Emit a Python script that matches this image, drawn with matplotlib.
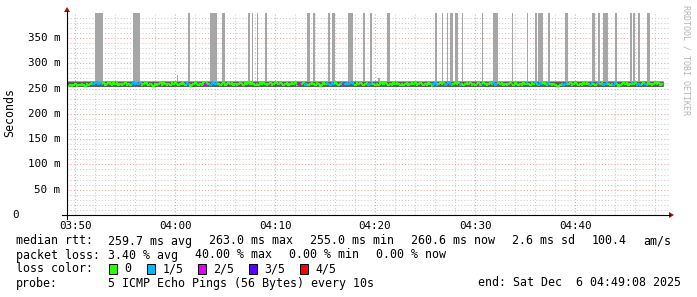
import numpy as np
import matplotlib
matplotlib.use("Agg")
import matplotlib.pyplot as plt
from matplotlib.collections import LineCollection
from matplotlib.patches import Rectangle, Polygon
from matplotlib.lines import Line2D

# ---------------- data ----------------
step_s = 10
start_offset_s = -50          # first sample 03:49:10 (relative to 03:50:00)
median_ms = [
    256,255,257,255,256,258,255,257,256,259,257,255,258,256,259,261,258,260,262,259,
    261,258,260,257,259,262,258,256,260,258,261,257,259,256,258,260,257,259,256,258,
    262,259,261,258,260,257,259,262,258,256,259,257,255,258,256,259,261,257,260,258,
    256,259,257,260,258,261,259,256,258,262,259,257,260,258,255,257,259,261,258,256,
    259,257,260,258,261,259,257,262,260,258,261,259,256,258,260,257,259,261,258,260,
    257,259,256,258,261,259,257,260,258,262,259,261,258,256,259,257,260,258,261,259,
    256,258,260,257,259,262,260,258,261,259,256,258,260,257,259,261,258,260,257,259,
    261,258,260,257,259,256,258,261,259,257,260,258,255,257,260,258,261,259,257,260,
    258,261,259,256,258,260,257,259,261,258,260,262,259,257,260,258,261,259,256,258,
    260,257,259,261,258,256,259,257,260,262,259,261,258,256,259,257,260,258,261,259,
    257,259,256,258,260,257,259,261,258,260,257,259,261,258,256,259,257,260,258,255,
    258,260,257,259,261,258,260,257,259,262,258,256,259,261,258,260,257,259,256,258,
    261,258,260,257,259,256,258,260,257,259,261,258,256,259,261,258,260,257,259,261,
    258,260,257,259,256,258,261,259,257,260,258,256,259,257,260,258,261,259,257,260,
    258,261,259,257,260,258,262,259,257,260,258,256,259,257,255,254,256,258,257,259,
    261,258,260,257,259,261,258,256,259,257,260,258,261,259,257,260,258,256,259,261,
    258,260,257,259,261,258,256,259,257,260,258,255,257,259,261,258,260,257,259,261,
    258,260,257,259,256,258,261,259,257,260,258,256,259,261,258,260,257,259,
]
# samples with packet loss (index, lost pings of 5)
loss_idx = [16,17,18,19,20,21,39,40,41,42,43,44,72,73,83,86,87,88,89,90,139,140,143,144,
            156,157,158,159,160,165,166,167,168,169,170,171,172,181,182,183,220,221,222,
            227,228,229,230,231,236,249,256,257,258,267,276,281,283,284,285,289,298,299,300,
            314,315,319,322,323,324,328,329,339,342,343,344,347,348]
loss_cnt = [1,1,1,1,1,1,1,1,1,1,1,1,1,1,2,1,1,1,1,1,2,2,1,1,
            1,1,1,1,1,1,2,1,1,1,1,1,1,1,1,1,1,1,1,
            1,1,1,1,1,1,1,1,1,1,1,1,1,1,1,1,1,1,1,1,
            1,1,1,1,1,1,1,1,1,1,1,1,1,1]
# samples whose slowest ping rises above the band
spike_idx = [17,18,19,20,21,40,41,42,43,66,73,86,87,88,89,93,94,109,111,114,119,144,145,148,
             157,159,160,169,170,171,178,182,187,192,193,221,225,228,230,231,233,234,237,249,
             256,257,258,267,276,281,283,284,285,289,299,300,315,316,319,322,323,324,329,338,
             340,343,348,349]
spike_ms = [450]*9 + [277] + [450]*22 + [271] + [450]*35
# smoke band (5-minute blocks)
smoke_lo_ms = [254,254,254,254,254,254,254,254,254,254,254,254]
smoke_hi_ms = [265,265,265,265,265,265,265,265,265,265,265,265]

loss_colors = ['#26ff00', '#00b8ff', '#dd00ff', '#5e00ff', '#ff0000']
loss_labels = ['0', '1/5', '2/5', '3/5', '4/5']

# ---------------- figure ----------------
W, H = 697, 297
fig = plt.figure(figsize=(W / 100, H / 100), dpi=100)
fig.patch.set_facecolor('white')

def fx(x):
    return x / W

def fy(y):
    return 1 - y / H

L, R, T, B = 67, 669, 12.6, 215
ax = fig.add_axes([fx(L), fy(B), (R - L) / W, (B - T) / H])
ax.set_xlim(-0.8, 59.4)
ax.set_ylim(0, 0.4)
ax.set_facecolor('white')
for s in ax.spines.values():
    s.set_visible(False)
ax.set_xticks([]); ax.set_yticks([])

dot = (0, (1, 2))
for v in np.arange(0.01, 0.40, 0.01):
    if abs(v / 0.05 - round(v / 0.05)) > 1e-6:
        ax.axhline(v, color='#cccccc', lw=0.75, ls=dot, zorder=0)
for v in np.arange(0.05, 0.40, 0.05):
    ax.axhline(v, color='#e6a0a0', lw=0.75, ls=dot, zorder=0.5)
for m in range(0, 60, 2):
    if m % 10:
        ax.axvline(m, color='#cccccc', lw=0.75, ls=dot, zorder=0)
for m in range(0, 60, 10):
    ax.axvline(m, color='#e6a0a0', lw=0.75, ls=dot, zorder=0.5)

N = len(median_ms)
t = (start_offset_s + np.arange(N + 1) * step_s) / 60.0
med = np.array(median_ms) / 1000.0
loss = np.zeros(N, dtype=int)
loss[loss_idx] = loss_cnt

lo = np.repeat(np.array(smoke_lo_ms) / 1000.0, 30)[:N]
hi = np.repeat(np.array(smoke_hi_ms) / 1000.0, 30)[:N]

# smoke spikes
sp_i = np.array(spike_idx)
sp_top = np.array(spike_ms) / 1000.0
ax.bar(t[sp_i], sp_top - hi[sp_i], width=step_s / 60.0, bottom=hi[sp_i], align='edge',
       color='#a6a6a6', lw=0, zorder=2)
# smoke band
ax.fill_between(t, np.append(lo, lo[-1]), np.append(hi, hi[-1]), step='post',
                color='#5c5c5c', lw=0, zorder=3)

# median line coloured by loss
segs, cols = [], []
for i in range(N):
    prev = med[i - 1] if i > 0 else med[i]
    segs.append([(t[i], prev), (t[i], med[i]), (t[i + 1], med[i])])
    cols.append(loss_colors[loss[i]])
ax.add_collection(LineCollection(segs, colors=cols, linewidths=1.5, zorder=4,
                                 capstyle='butt', joinstyle='miter'))

# axes lines and arrows
fig.add_artist(Line2D([fx(62), fx(670)], [fy(215), fy(215)], color='black', lw=0.8))
fig.add_artist(Line2D([fx(67), fx(67)], [fy(219), fy(11)], color='black', lw=0.8))
fig.add_artist(Polygon([(fx(64), fy(12)), (fx(70), fy(12)), (fx(67), fy(7))],
                       closed=True, color='#a01010', lw=0))
fig.add_artist(Polygon([(fx(669), fy(212)), (fx(669), fy(218)), (fx(674), fy(215))],
                       closed=True, color='#a01010', lw=0))

mono = 'DejaVu Sans Mono'
tick_fs = 7.8
leg_fs = 8.4
# y tick labels
for v, lab in zip(range(50, 400, 50), ['50 m', '100 m', '150 m', '200 m', '250 m', '300 m', '350 m']):
    y = B - (B - T) * v / 400.0
    fig.text(fx(60), fy(y), lab, ha='right', va='center', family=mono, fontsize=tick_fs)
fig.text(fx(15.6), fy(215), '0', ha='center', va='center', family=mono, fontsize=tick_fs)
# x tick labels
for m, lab in zip(range(0, 60, 10), ['03:50', '04:00', '04:10', '04:20', '04:30', '04:40']):
    fig.text(fx(75 + 10 * m), fy(226), lab, ha='center', va='center', family=mono, fontsize=tick_fs)

fig.text(fx(10), fy(113), 'Seconds', rotation=90, ha='center', va='center', family=mono,
         fontsize=leg_fs)
fig.text(fx(686), fy(5), 'RRDTOOL / TOBI OETIKER', rotation=270, ha='center', va='top',
         family=mono, fontsize=6.0, color='#b4b4b4')

# legend lines
y1, y2, y3, y4 = 241, 255, 269, 283
def txt(x, y, s):
    fig.text(fx(x), fy(y), s, ha='left', va='center', family=mono, fontsize=leg_fs)

txt(16, y1, 'median rtt:')
for x, s in [(107.6, '259.7 ms avg'), (209.4, '263.0 ms max'), (310.3, '255.0 ms min'),
             (411.2, '260.6 ms now'), (512.1, '2.6 ms sd'), (591.9, '100.4'), (643, 'am/s')]:
    txt(x, y1, s)
txt(16, y2, 'packet loss:')
for x, s in [(108.5, '3.40 % avg'), (195, '40.00 % max'), (289, '0.00 % min'), (376, '0.00 % now')]:
    txt(x, y2, s)
txt(16, y3, 'loss color:')
for bx, c, lab in zip([109, 147, 198, 249, 300], loss_colors, loss_labels):
    fig.add_artist(Rectangle((fx(bx), fy(y3 + 5)), 8 / W, 10 / H, facecolor=c,
                             edgecolor='black', lw=0.7))
    txt(bx + 15.5, y3, lab)
txt(16, y4, 'probe:')
txt(108, y4, '5 ICMP Echo Pings (56 Bytes) every 10s')
txt(478, y4, 'end: Sat Dec  6 04:49:08 2025')

fig.savefig('out.png', dpi=100, facecolor='white')
